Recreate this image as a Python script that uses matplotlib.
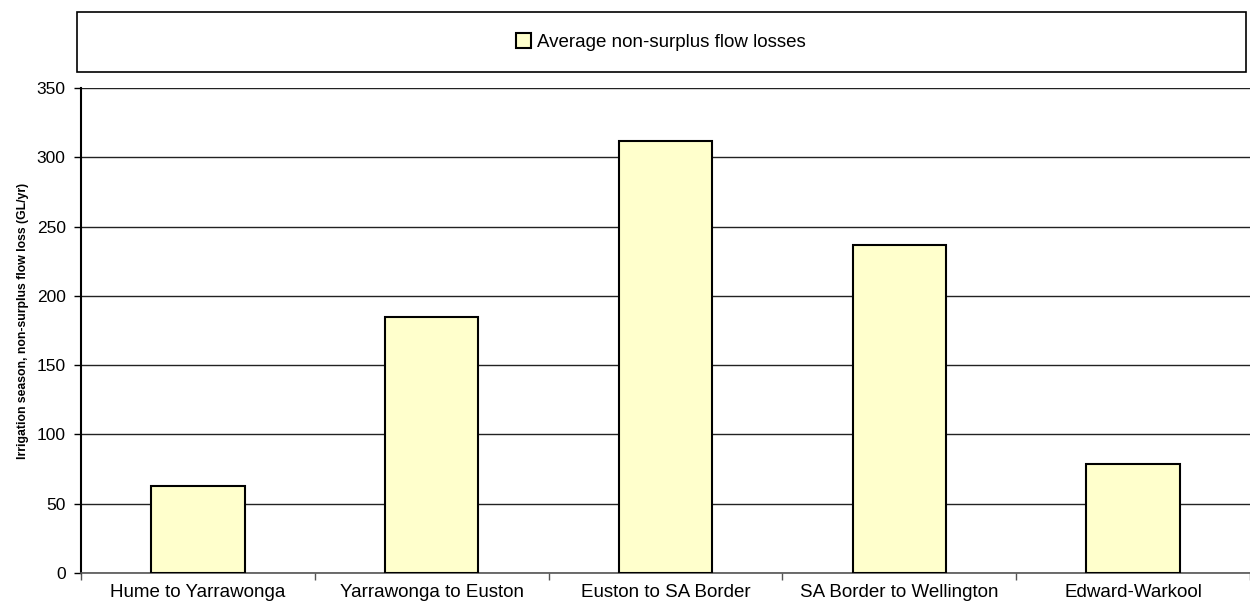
import matplotlib
matplotlib.use('Agg')
import matplotlib.pyplot as plt
from matplotlib import font_manager
from matplotlib.patches import Rectangle
import numpy as np

categories = ['Hume to Yarrawonga', 'Yarrawonga to Euston', 'Euston to SA Border',
              'SA Border to Wellington', 'Edward-Warkool']
losses = [63, 185, 312, 237, 79]
series_name = 'Average non-surplus flow losses'
y_label = 'Irrigation season, non-surplus flow loss (GL/yr)'
y_ticks = [0, 50, 100, 150, 200, 250, 300, 350]

plt.rcParams['font.family'] = ['Liberation Sans', 'DejaVu Sans']

names = {f.name for f in font_manager.fontManager.ttflist}
narrow = 'Liberation Sans Narrow' if 'Liberation Sans Narrow' in names else 'Liberation Sans'

fig = plt.figure(figsize=(12.5, 6.03), dpi=100)
W, H = 1250, 603
ax = fig.add_axes([81 / W, 1 - 573 / H, 1 - 81 / W, (573 - 88) / H])

x = np.arange(len(categories))
bars = ax.bar(x, losses, width=0.40, color='#FFFFCC', edgecolor='black',
              linewidth=1.5, label=series_name, zorder=3)

ax.set_xlim(-0.5, len(categories) - 0.5)
ax.set_ylim(0, 350)
ax.set_yticks(y_ticks)
ax.yaxis.grid(True, color='#222222', linewidth=1.0, zorder=0)
ax.tick_params(axis='y', length=5, width=1, pad=6, labelsize=12.5)

# category labels centred, ticks on the boundaries
ax.set_xticks(np.arange(len(categories) + 1) - 0.5)
ax.set_xticklabels([])
ax.set_xticks(x, minor=True)
ax.set_xticklabels(categories, minor=True, fontsize=13.5)
ax.tick_params(axis='x', which='minor', length=0, pad=8)
ax.tick_params(axis='x', which='major', length=5, width=1, color='#555555')

for s in ['top', 'right']:
    ax.spines[s].set_visible(False)
ax.spines['left'].set_linewidth(1.5)
ax.spines['bottom'].set_color('#555555')
ax.spines['bottom'].set_linewidth(1.2)

fig.text(23 / W, 1 - 321 / H, y_label, rotation=90, ha='center', va='center',
         fontsize=8.8, fontweight='bold', family=[narrow, 'DejaVu Sans'])

# legend box across the top
fig.patches.append(Rectangle((77 / W, 1 - 72 / H), (1246 - 77) / W, 60 / H,
                             transform=fig.transFigure, fill=False,
                             edgecolor='black', linewidth=1.2))
fig.legend(handles=[bars], labels=[series_name], loc='center',
           bbox_to_anchor=(661 / W, 1 - 42 / H), frameon=False, fontsize=13.5,
           handlelength=0.8, handleheight=0.8, handletextpad=0.3)

fig.savefig('out.png', dpi=100)
